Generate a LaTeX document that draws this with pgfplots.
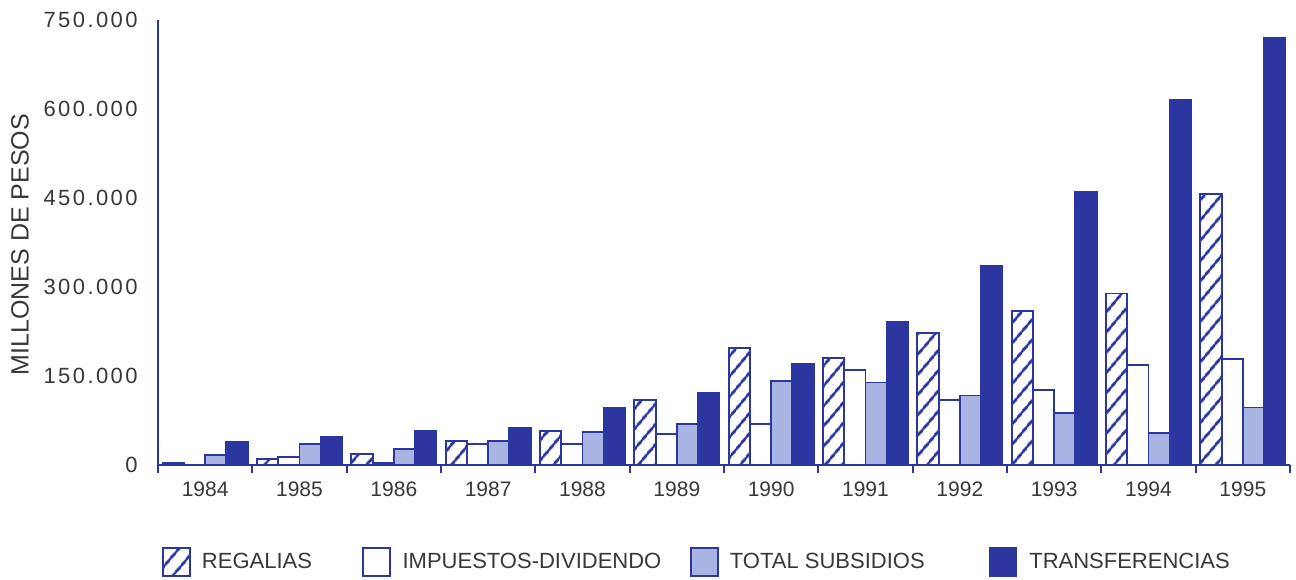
\documentclass[border=0pt]{standalone}
\usepackage{fontspec}
\setmainfont{Liberation Sans}
\newfontfamily\tickfont[LetterSpace=11]{Liberation Sans}
\usepackage{pgfplots}
\pgfplotsset{compat=1.18}
\usetikzlibrary{patterns.meta}
\definecolor{barblue}{RGB}{44,54,160}
\definecolor{lightbar}{RGB}{170,180,226}
\definecolor{txt}{RGB}{55,55,60}

\pgfplotsset{
  boxlegend/.style={legend image code/.code={\draw[##1, line width=0.8pt] (0pt,-7pt) rectangle (13.5pt,7pt);}},
}

\begin{document}
\begin{tikzpicture}
\begin{axis}[
  scale only axis, width=566pt, height=222.5pt,
  xmin=-0.5, xmax=11.5, ymin=0, ymax=750000,
  axis lines*=left,
  axis line style={barblue, line width=1pt},
  clip=false,
  ytick={0,150000,300000,450000,600000,750000},
  scaled y ticks=false,
  /pgf/number format/assume math mode=true,
  /pgf/number format/1000 sep={.},
  /pgf/number format/fixed,
  yticklabel style={font=\tickfont\fontsize{11}{13}\selectfont, text=txt, anchor=east, inner sep=0pt, xshift=-10pt},
  xtick={0,...,11},
  xticklabels={1984,1985,1986,1987,1988,1989,1990,1991,1992,1993,1994,1995},
  xticklabel style={font=\fontsize{10.5}{12}\selectfont, text=txt, anchor=north, inner sep=0pt, yshift=-8pt},
  major tick length=0pt,
  tick style={barblue, line width=1pt},
  extra x ticks={-0.5,0.5,1.5,2.5,3.5,4.5,5.5,6.5,7.5,8.5,9.5,10.5,11.5},
  extra x tick labels={},
  extra x tick style={major tick length=4pt, tick align=outside, tick style={barblue, line width=1pt}},
  ylabel={MILLONES DE PESOS},
  every axis y label/.style={at={(axis description cs:-0.122,0.495)}, rotate=90, anchor=center, font=\fontsize{12.5}{14}\selectfont, text=txt},
  legend columns=4,
  legend style={at={(axis description cs:0.0035,-0.218)}, anchor=west, draw=none, fill=none, inner sep=0pt,
    font=\fontsize{11}{13}\selectfont, text=txt,
    nodes={inner sep=0pt},
    column sep=0pt,
    /tikz/column 1/.style={column sep=5.5pt},
    /tikz/column 2/.style={column sep=25pt},
    /tikz/column 3/.style={column sep=6pt},
    /tikz/column 4/.style={column sep=14.5pt},
    /tikz/column 5/.style={column sep=5.5pt},
    /tikz/column 6/.style={column sep=32pt},
    /tikz/column 7/.style={column sep=6pt}},
]
\addplot[ybar, bar width=0.225, bar shift=-0.3375, draw=barblue, line width=0.9pt,
  pattern={Lines[angle=50,distance=6.5pt,line width=1.5pt]}, pattern color=barblue, boxlegend]
  coordinates {(0,4000) (1,10000) (2,18000) (3,40000) (4,57000) (5,109000) (6,197000) (7,181000) (8,222000) (9,259000) (10,289000) (11,457000)};
\addplot[ybar, bar width=0.225, bar shift=-0.1125, draw=barblue, line width=0.9pt, fill=white, boxlegend]
  coordinates {(0,0) (1,13000) (2,4000) (3,35000) (4,35000) (5,52000) (6,69000) (7,160000) (8,109000) (9,126000) (10,168000) (11,178000)};
\addplot[ybar, bar width=0.225, bar shift=0.1125, draw=barblue, line width=0.9pt, fill=lightbar, boxlegend]
  coordinates {(0,17000) (1,35000) (2,27000) (3,40000) (4,55000) (5,69000) (6,141000) (7,139000) (8,117000) (9,87000) (10,54000) (11,97000)};
\addplot[ybar, bar width=0.225, bar shift=0.3375, draw=barblue, line width=0.9pt, fill=barblue, boxlegend]
  coordinates {(0,39000) (1,47000) (2,57000) (3,62000) (4,96000) (5,121000) (6,170000) (7,242000) (8,336000) (9,460000) (10,615000) (11,720000)};
\legend{REGALIAS, IMPUESTOS-DIVIDENDO, TOTAL SUBSIDIOS, TRANSFERENCIAS}
\end{axis}
\pgfresetboundingbox
\useasboundingbox (-79pt,-57pt) rectangle (569pt,232.5pt);
\end{tikzpicture}
\end{document}
